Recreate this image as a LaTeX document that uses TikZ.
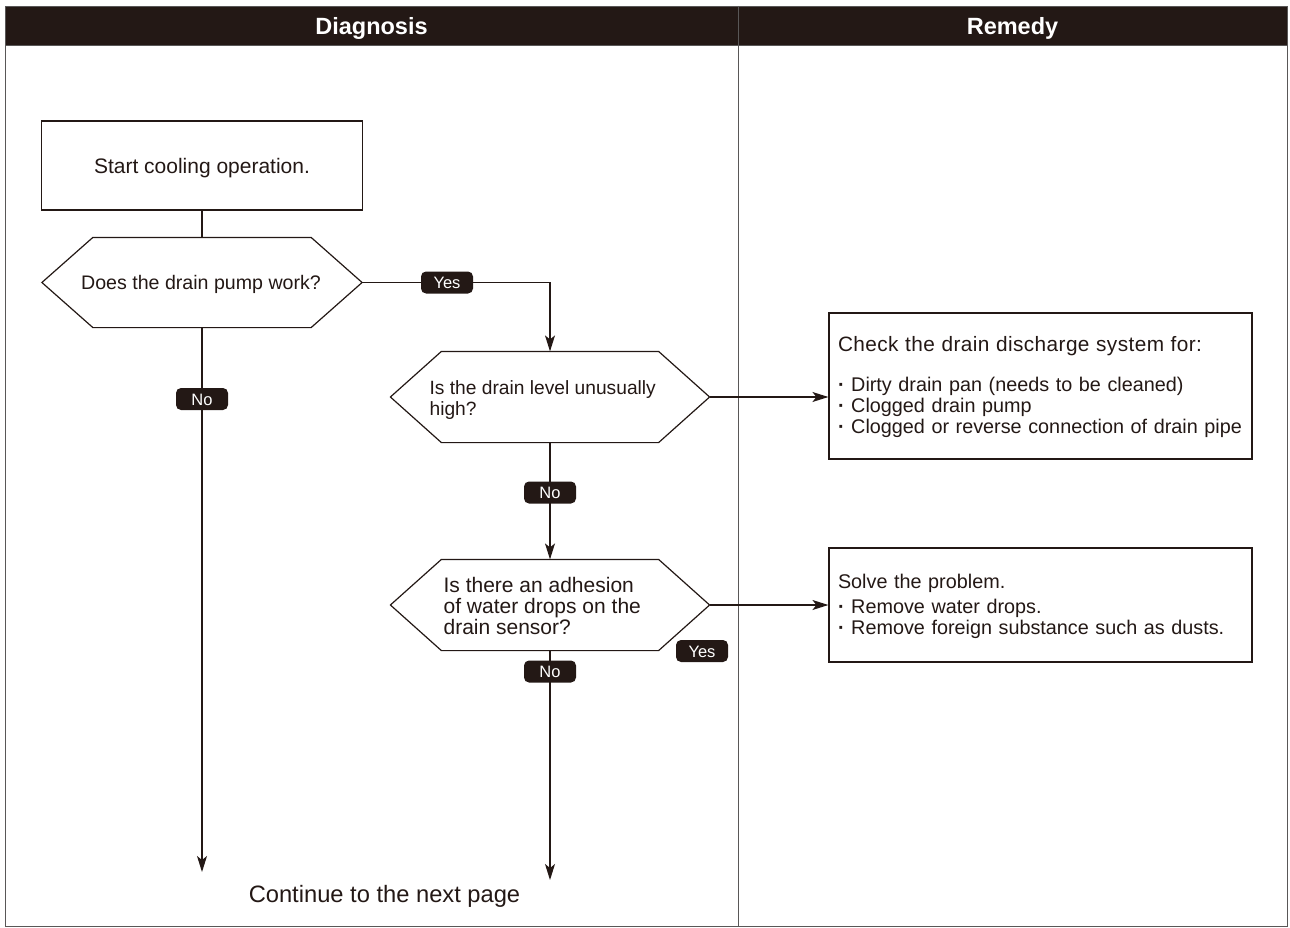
\documentclass[tikz,border=0pt]{standalone}
\usepackage{fontspec}
\setmainfont{Liberation Sans}
\usetikzlibrary{arrows.meta}
\definecolor{ink}{HTML}{231815}
\definecolor{framegray}{HTML}{595757}
\newcommand{\hexdraw}[2]{\draw (#1.west) -- ([xshift=#2]#1.north west) -- ([xshift=-#2]#1.north east) -- (#1.east) -- ([xshift=-#2]#1.south east) -- ([xshift=#2]#1.south west) -- cycle;}
\newcommand{\bul}{\textbf{·}\ }
\begin{document}
\begin{tikzpicture}[x=1pt,y=-1pt,line width=1.2pt,color=ink,
  every node/.style={text=ink},
  headcell/.style={fill=ink,text=white,inner sep=0pt,minimum height=39pt,text depth=0pt,font=\fontsize{23.5}{25}\selectfont\bfseries},
  procbox/.style={draw,inner sep=9pt,font=\fontsize{19.8}{21}\selectfont},
  hexnode/.style={inner sep=0pt,minimum width=318pt,minimum height=90pt},
  hextext/.style={inner sep=0pt,align=left,anchor=west},
  tag/.style={fill=ink,text=white,rounded corners=5pt,minimum width=52pt,minimum height=22pt,inner sep=0pt,text depth=0pt,text height=12pt,font=\fontsize{16.5}{18}\selectfont},
  flow/.style={-{Stealth[length=16pt,width=10pt,inset=4pt]}}]
\useasboundingbox (0,0) rectangle (1290,928);
% header and frame
\node[headcell,minimum width=733pt] (hdiag) at (371.5,25.5) {Diagnosis};
\node[headcell,minimum width=549pt] (hrem) at (1012.5,25.5) {Remedy};
\draw[framegray,line width=0.9pt] (5,6) rectangle (1287,926);
\draw[framegray,line width=0.9pt] (5,45) -- (1287,45);
\draw[framegray,line width=0.9pt] (738,6) -- (738,926);
% nodes
\node[procbox,minimum width=321pt,minimum height=89pt,text depth=0pt,font=\fontsize{21}{24}\selectfont] (s) at (202,165.5) {Start cooling operation.};
\node[hexnode,minimum width=319pt,minimum height=89pt] (h1) at (202,282.5) {};
\hexdraw{h1}{51}
\node[inner sep=0pt,text depth=0pt,font=\fontsize{19.6}{22}\selectfont] (h1t) at (201,282) {Does the drain pump work?};
\node[hexnode] (h2) at (550,397) {};
\hexdraw{h2}{51}
\node[hextext,font=\fontsize{19.2}{21.5}\selectfont] (h2t) at (429,400) {Is the drain level unusually\\high?};
\node[hexnode] (h3) at (550,605) {};
\hexdraw{h3}{51}
\node[hextext,font=\fontsize{21}{21}\selectfont] (h3t) at (443,606) {Is there an adhesion\\of water drops on the\\drain sensor?};
\node[procbox,text width=405pt,minimum height=146pt,align=left] (b1) at (1040.5,386) {\rule{0pt}{18pt}{\fontsize{20.8}{21}\selectfont\addfontfeatures{LetterSpace=2}Check the drain discharge system for:}\\[19pt]
\bul Dirty drain pan (needs to be cleaned)\\
\bul Clogged drain pump\\
\bul Clogged or reverse connection of drain pipe};
\node[procbox,text width=405pt,minimum height=114pt,align=left] (b2) at (1040.5,605) {\rule{0pt}{18pt}Solve the problem.\\[4pt]
\bul Remove water drops.\\
\bul Remove foreign substance such as dusts.};
\node[inner sep=0pt,text depth=0pt,font=\fontsize{23.7}{26}\selectfont] (cont) at (384.5,894) {Continue to the next page};
\coordinate (e1) at (202,872);
\coordinate (e2) at (550,880);
% connectors
\draw (s.south) -- (h1.north);
\draw[flow] (h1.east) -| (h2.north);
\draw[flow] (h1.south) -- (e1);
\draw[flow] (h2.east) -- (h2.east -| b1.west);
\draw[flow] (h2.south) -- (h3.north);
\draw[flow] (h3.east) -- (h3.east -| b2.west);
\draw[flow] (h3.south) -- (e2);
% labels
\node[tag] (ly1) at (447,282.5) {Yes};
\node[tag] (ln1) at (202,399) {No};
\node[tag] (ln2) at (550,492.5) {No};
\node[tag] (ly2) at (702,651) {Yes};
\node[tag] (ln3) at (550,671.5) {No};
\end{tikzpicture}
\end{document}
